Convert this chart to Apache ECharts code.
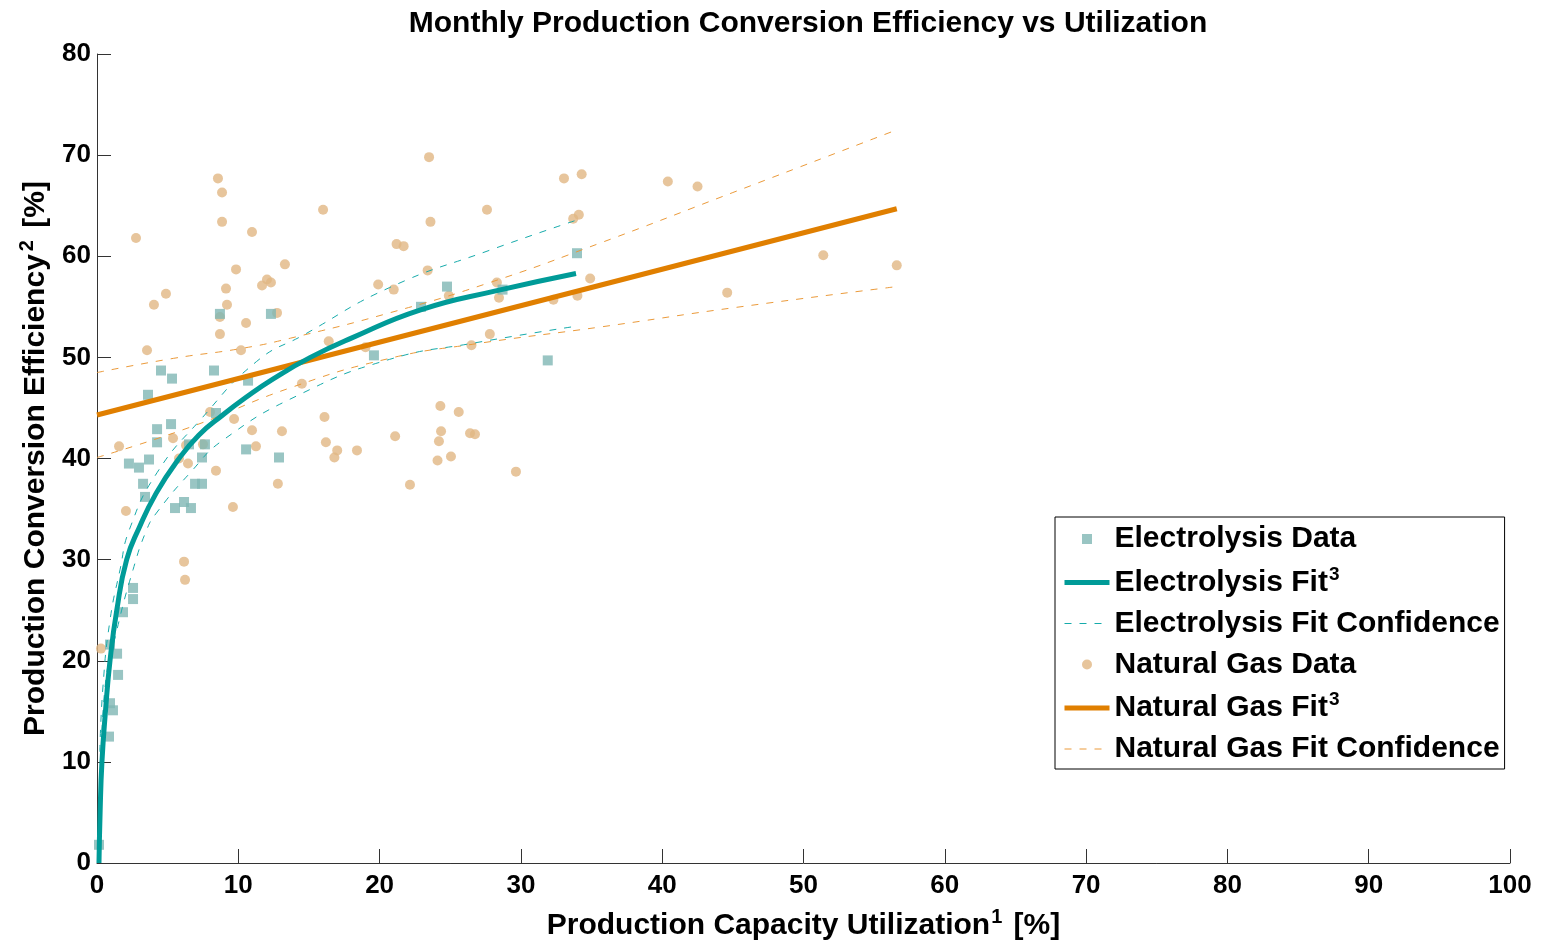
<!DOCTYPE html>
<html>
<head>
<meta charset="utf-8">
<title>Monthly Production Conversion Efficiency vs Utilization</title>
<script src="https://cdn.jsdelivr.net/npm/echarts@6/dist/echarts.min.js"></script>
<style>
  html, body { margin: 0; padding: 0; background: #fff; }
  #main { width: 1543px; height: 943px; }
</style>
</head>
<body>
<div id="main"></div>
<script>
// electrolysis monthly points [utilization %, efficiency %]
var elecData = [
  [0.14, 1.8], [2.55, 27.2], [2.55, 26.1], [1.84, 24.8], [1.42, 20.7], [1.49, 18.6],
  [0.92, 15.8], [1.13, 15.1], [0.85, 12.5], [0.92, 21.6], [4.53, 48.7], [5.31, 47.9],
  [8.28, 48.7], [3.61, 46.3], [10.69, 47.7], [8.42, 44.5], [4.25, 42.9], [5.24, 43.4],
  [4.25, 41.6], [6.51, 41.4], [7.64, 41.4], [2.26, 39.5], [2.97, 39.1], [3.68, 39.9],
  [7.43, 40.1], [10.55, 40.9], [12.88, 40.1], [3.26, 37.5], [6.94, 37.5], [7.43, 37.5],
  [3.4, 36.2], [6.16, 35.7], [5.52, 35.1], [6.65, 35.1], [8.7, 54.3], [12.31, 54.3],
  [33.97, 60.3], [24.77, 57.0], [22.93, 55.0], [19.6, 50.2], [31.9, 49.7], [28.7, 56.7]
];

// natural gas monthly points
var gasData = [
  [8.56, 67.7], [8.85, 66.3], [8.85, 63.4], [10.97, 62.4], [2.76, 61.8], [13.3, 59.2],
  [9.84, 58.7], [9.13, 56.8], [12.03, 57.7], [12.31, 57.4], [11.68, 57.1], [4.88, 56.3],
  [4.03, 55.2], [9.2, 55.2], [8.7, 54.0], [10.55, 53.4], [12.74, 54.4], [8.7, 52.3],
  [3.54, 50.7], [10.19, 50.7], [14.5, 47.4], [8.0, 44.6], [9.7, 43.9], [10.97, 42.8],
  [13.09, 42.7], [5.38, 42.0], [1.56, 41.2], [6.3, 41.3], [7.5, 41.4], [11.25, 41.2],
  [5.8, 40.0], [6.44, 39.5], [8.42, 38.8], [12.8, 37.5], [2.05, 34.8], [9.62, 35.2],
  [6.16, 29.8], [6.23, 28.0], [0.28, 21.2], [23.5, 69.8], [33.05, 67.7], [34.3, 68.1],
  [16.0, 64.6], [27.6, 64.6], [23.6, 63.4], [34.1, 64.1], [33.7, 63.7], [21.2, 61.2],
  [21.7, 61.0], [23.4, 58.6], [19.9, 57.2], [21.0, 56.7], [28.3, 57.4], [24.9, 56.1],
  [28.45, 55.9], [34.9, 57.8], [34.0, 56.1], [32.3, 55.7], [16.4, 51.6], [19.0, 51.0],
  [27.8, 52.3], [26.5, 51.2], [24.3, 45.2], [25.6, 44.6], [16.1, 44.1], [16.2, 41.6],
  [17.0, 40.8], [16.8, 40.1], [18.4, 40.8], [21.1, 42.2], [24.35, 42.7], [24.2, 41.7],
  [26.4, 42.5], [26.75, 42.4], [25.05, 40.2], [24.1, 39.8], [29.65, 38.7], [22.15, 37.4],
  [40.4, 67.4], [42.5, 66.9], [51.4, 60.1], [56.6, 59.1], [44.6, 56.4]
];

// fitted curves
var elecFit = [
  [0.14, 0], [0.22, 5], [0.35, 10], [0.6, 15], [0.92, 20], [1.4, 25], [2.1, 30],
  [3.0, 33.2], [4.2, 36.6], [5.7, 39.8], [7.2, 42.3], [8.9, 44.3], [10.5, 46.0],
  [12.5, 47.9], [15.1, 50], [18, 51.9], [22.9, 54.7], [28.3, 56.6], [33.9, 58.3]
];
var elecFitUpper = [
  [0.2, 11], [0.42, 17.4], [0.92, 24], [1.63, 29], [2.3, 33], [4.25, 38.6],
  [7.3, 43.8], [11.3, 49.6], [14.6, 52.2], [20.7, 56.9], [27.8, 60.6], [34.0, 63.6]
];
var elecFitLower = [
  [0.3, 10], [0.57, 17.4], [1.4, 23], [2.55, 29], [3.5, 32.9], [4.2, 34.6],
  [6.6, 38.6], [8.9, 41.8], [14.3, 46.3], [20.7, 49.8], [26.6, 51.4], [34.0, 53.1]
];
var gasFit = [[0, 44.3], [56.6, 64.7]];
var gasFitUpper = [
  [0, 48.5], [5.4, 49.9], [10.3, 50.9], [13.7, 51.9], [20.7, 54.4], [27.8, 57.4],
  [35.6, 61.3], [45, 66.3], [56.6, 72.5]
];
var gasFitLower = [
  [0, 40.1], [6.6, 43.1], [13.7, 47.0], [20.7, 49.9], [26.6, 51.3], [35.6, 53.0],
  [45, 54.9], [56.6, 57.0]
];

var FONT = '"Liberation Sans", Arial, Helvetica, sans-serif';
var TEAL = '#009b98', TEAL_MK = '#80b6b4', TEAL_DASH = '#16abab';
var ORANGE = '#e07f00', TAN = '#e1b683', ORANGE_DASH = '#eb9a3a';

var SQUARE = 'path://M0,0h10v10h-10z';
var noMark = { opacity: 0 };
var DASH = [7, 8];

var chart = echarts.init(document.getElementById('main'));

var option = {
  backgroundColor: '#fff',
  animation: false,
  textStyle: { fontFamily: FONT },
  title: {
    text: 'Monthly Production Conversion Efficiency vs Utilization',
    left: 803,
    top: 4,
    textAlign: 'center',
    textStyle: { fontFamily: FONT, fontSize: 30, fontWeight: 'bold', color: '#000' }
  },
  grid: { left: 97, right: 33, top: 54, bottom: 80, outerBoundsMode: 'none' },
  legend: {
    orient: 'vertical',
    left: 1055,
    top: 517,
    data: [
      { name: 'Electrolysis Data', icon: SQUARE },
      { name: 'Electrolysis Fit', itemStyle: noMark, lineStyle: { width: 5, color: TEAL } },
      { name: 'Electrolysis Fit Confidence', itemStyle: noMark, lineStyle: { width: 1, type: DASH, color: TEAL_DASH } },
      { name: 'Natural Gas Data', icon: 'circle' },
      { name: 'Natural Gas Fit', itemStyle: noMark, lineStyle: { width: 5, color: ORANGE } },
      { name: 'Natural Gas Fit Confidence', itemStyle: noMark, lineStyle: { width: 1, type: DASH, color: ORANGE_DASH } }
    ],
    backgroundColor: '#fff',
    borderColor: '#000',
    borderWidth: 1,
    borderRadius: 0,
    padding: [7, 5, 5, 7],
    itemWidth: 45,
    itemHeight: 10,
    itemGap: 11,
    itemTextGap: 10,
    formatter: function (name) {
      if (name.indexOf('Fit') >= 0 && name.indexOf('Confidence') < 0) {
        return '{n|' + name + '}{s|3}';
      }
      return '{n|' + name + '}';
    },
    textStyle: {
      color: '#000',
      rich: {
        n: { fontFamily: FONT, fontSize: 30, fontWeight: 'bold', color: '#000', lineHeight: 30 },
        s: { fontFamily: FONT, fontSize: 19, fontWeight: 'bold', color: '#000', padding: [0, 0, 16, 1] }
      }
    }
  },
  xAxis: {
    type: 'value',
    min: 0,
    max: 100,
    interval: 10,
    name: '{n|Production Capacity Utilization}{s|1}{n| [%]}',
    nameLocation: 'middle',
    nameGap: 44,
    nameTextStyle: {
      rich: {
        n: { fontFamily: FONT, fontSize: 30, fontWeight: 'bold', color: '#000' },
        s: { fontFamily: FONT, fontSize: 20, fontWeight: 'bold', color: '#000', padding: [0, 3, 18, 1] }
      }
    },
    axisLine: { show: true, lineStyle: { color: '#333', width: 1 } },
    axisTick: { show: true, inside: true, length: 14, lineStyle: { color: '#333' } },
    axisLabel: { fontFamily: FONT, fontSize: 26, fontWeight: 'bold', color: '#000', margin: 10 },
    splitLine: { show: false }
  },
  yAxis: {
    type: 'value',
    min: 0,
    max: 80,
    interval: 10,
    name: '{n|Production Conversion Efficiency}{s|2}{n| [%]}',
    nameLocation: 'middle',
    nameGap: 36,
    nameTextStyle: {
      rich: {
        n: { fontFamily: FONT, fontSize: 30, fontWeight: 'bold', color: '#000' },
        s: { fontFamily: FONT, fontSize: 20, fontWeight: 'bold', color: '#000', padding: [0, 4, 18, 3] }
      }
    },
    axisLine: { show: true, lineStyle: { color: '#333', width: 1 } },
    axisTick: { show: true, inside: true, length: 14, lineStyle: { color: '#333' } },
    axisLabel: { fontFamily: FONT, fontSize: 26, fontWeight: 'bold', color: '#000', margin: 6 },
    splitLine: { show: false }
  },
  series: [
    {
      name: 'Natural Gas Data', type: 'scatter', symbol: 'circle', symbolSize: 10,
      itemStyle: { color: TAN }, data: gasData, z: 2
    },
    {
      name: 'Electrolysis Data', type: 'scatter', symbol: 'rect', symbolSize: 10,
      itemStyle: { color: TEAL_MK }, data: elecData, z: 3
    },
    {
      name: 'Natural Gas Fit Confidence', type: 'line', data: gasFitUpper, smooth: true,
      showSymbol: false, symbol: 'none', z: 4,
      itemStyle: { color: ORANGE_DASH },
      lineStyle: { color: ORANGE_DASH, width: 1, type: DASH }
    },
    {
      name: 'Natural Gas Fit Confidence', type: 'line', data: gasFitLower, smooth: true,
      showSymbol: false, symbol: 'none', z: 4,
      itemStyle: { color: ORANGE_DASH },
      lineStyle: { color: ORANGE_DASH, width: 1, type: DASH }
    },
    {
      name: 'Electrolysis Fit Confidence', type: 'line', data: elecFitUpper, smooth: true,
      showSymbol: false, symbol: 'none', z: 4,
      itemStyle: { color: TEAL_DASH },
      lineStyle: { color: TEAL_DASH, width: 1, type: DASH }
    },
    {
      name: 'Electrolysis Fit Confidence', type: 'line', data: elecFitLower, smooth: true,
      showSymbol: false, symbol: 'none', z: 4,
      itemStyle: { color: TEAL_DASH },
      lineStyle: { color: TEAL_DASH, width: 1, type: DASH }
    },
    {
      name: 'Natural Gas Fit', type: 'line', data: gasFit,
      showSymbol: false, symbol: 'none', z: 5,
      itemStyle: { color: ORANGE },
      lineStyle: { color: ORANGE, width: 5 }
    },
    {
      name: 'Electrolysis Fit', type: 'line', data: elecFit, smooth: true,
      showSymbol: false, symbol: 'none', z: 6,
      itemStyle: { color: TEAL },
      lineStyle: { color: TEAL, width: 5 }
    }
  ]
};

chart.setOption(option);
</script>
</body>
</html>
